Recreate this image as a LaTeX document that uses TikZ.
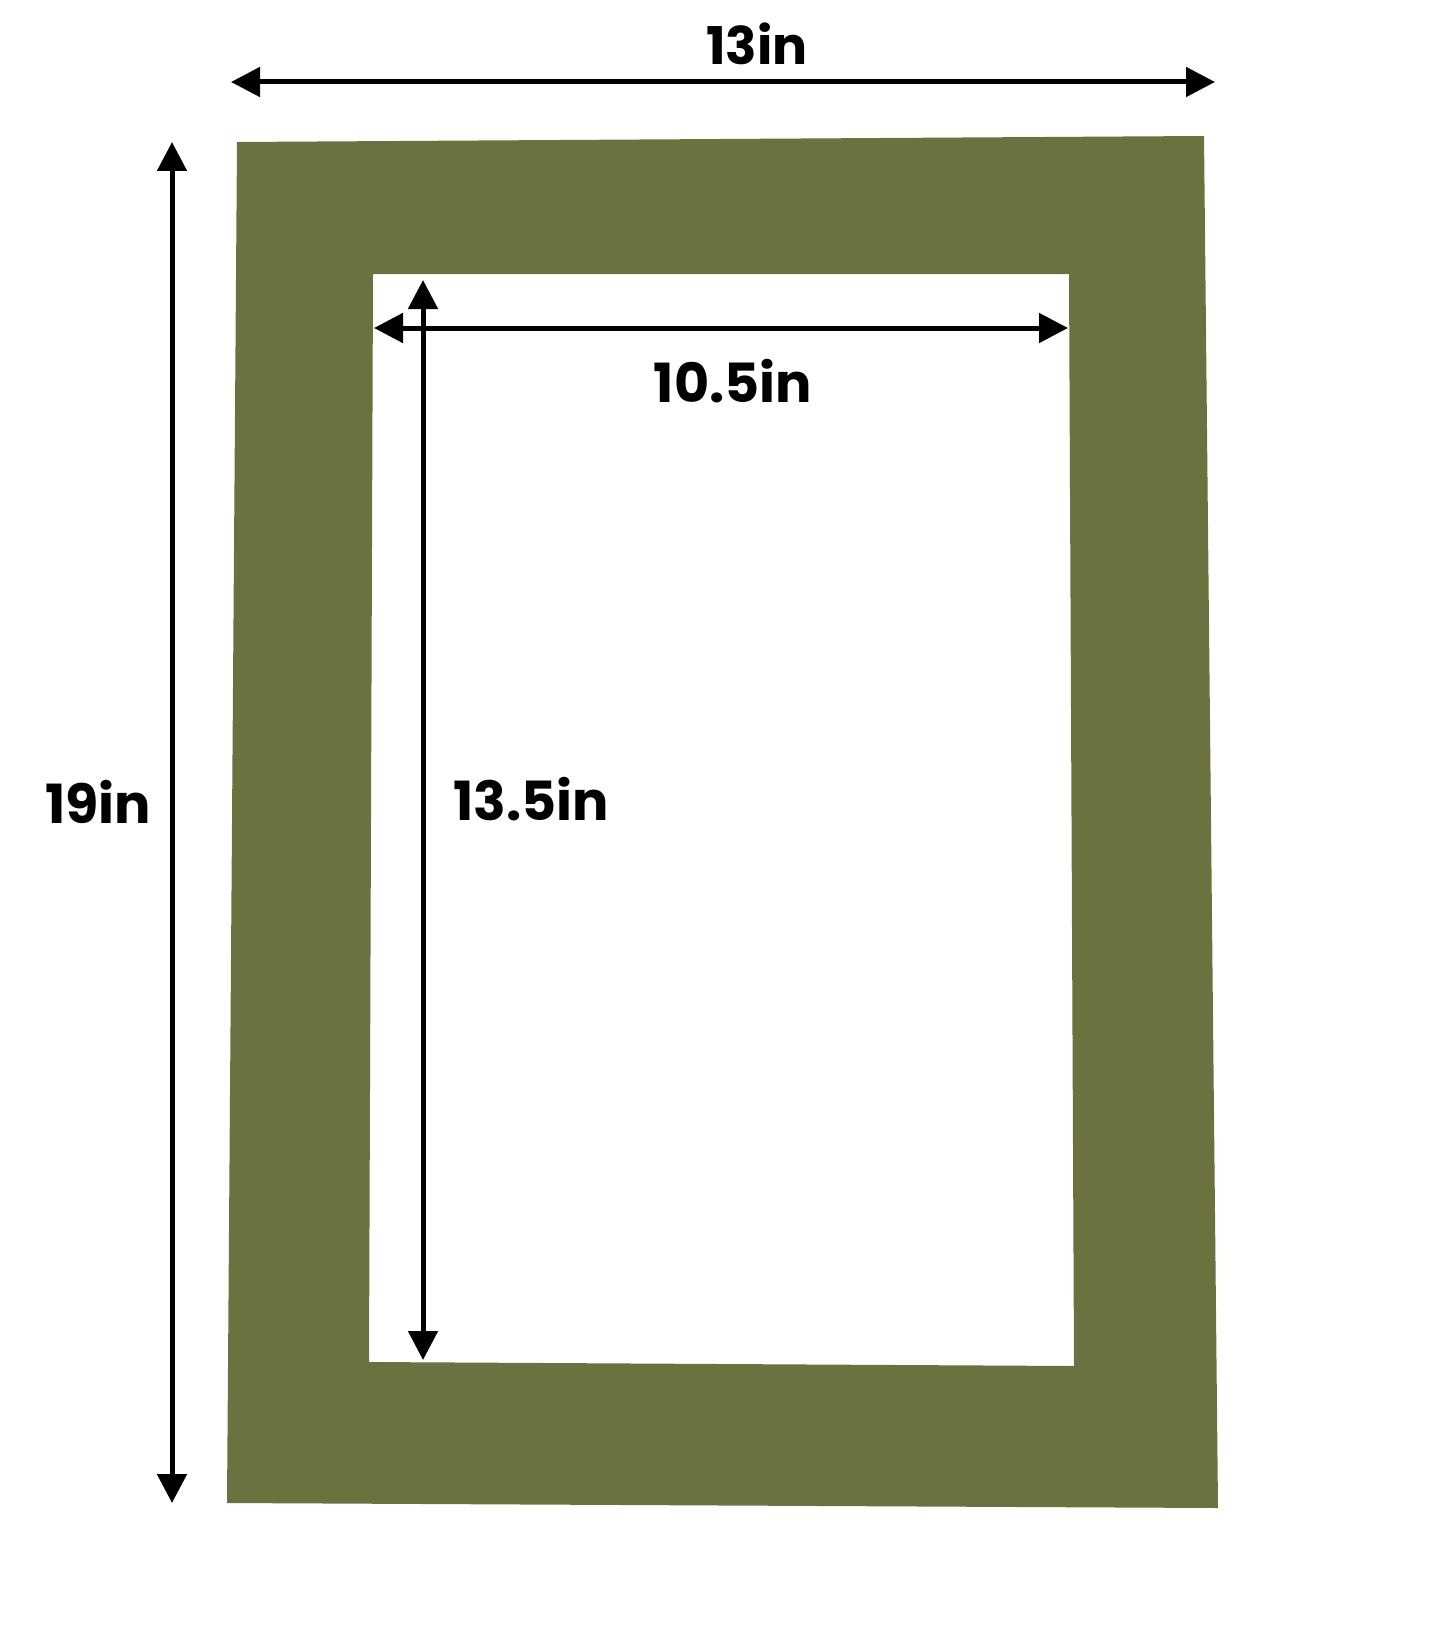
\documentclass[tikz,border=0pt]{standalone}
\usepackage{fontspec}
\setmainfont{Poppins}[BoldFont={Poppins Bold}]
\usetikzlibrary{arrows.meta}
\definecolor{matgreen}{RGB}{108,113,64}
\tikzset{
  dimarrow/.style={line width=5pt, {Triangle[length=29pt,width=29pt]}-{Triangle[length=29pt,width=29pt]}},
  biglabel/.style={anchor=base, inner sep=0pt, font=\fontsize{54}{60}\selectfont\bfseries},
  toplabel/.style={anchor=base, inner sep=0pt, font=\fontsize{52}{58}\selectfont\bfseries}
}
\begin{document}
\begin{tikzpicture}[x=1pt,y=-1pt]
\useasboundingbox (0,0) rectangle (1445,1645);
\fill[white] (0,0) rectangle (1445,1645);
% mat with window
\fill[matgreen, even odd rule]
  (237,142) -- (1204,136) -- (1218,1508) -- (227,1503) -- cycle
  (373,274) -- (1069,274) -- (1074,1366) -- (369,1362) -- cycle;
% arrow end points
\coordinate (tl) at (231,82);
\coordinate (tr) at (1215,82);
\coordinate (vt) at (172,142);
\coordinate (vb) at (172,1503);
\coordinate (il) at (374,328);
\coordinate (ir) at (1068,328);
\coordinate (it) at (423,280);
\coordinate (ib) at (423,1360);
\draw[dimarrow] (tl) -- (tr);
\draw[dimarrow] (vt) -- (vb);
\draw[dimarrow] (il) -- (ir);
\draw[dimarrow] (it) -- (ib);
% labels
\node[toplabel] (w) at (757,65) {13in};
\node[biglabel] (iw) at (733,402) {10.5in};
\node[biglabel] (h) at (98,823) {19in};
\node[biglabel] (ih) at (531,820) {13.5in};
\end{tikzpicture}
\end{document}
